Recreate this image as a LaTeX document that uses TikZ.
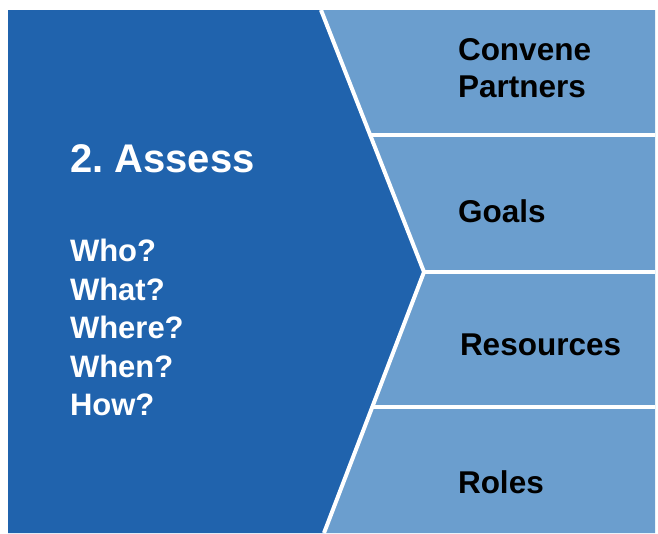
\documentclass[tikz,border=0pt]{standalone}
\usepackage{fontspec}
\setmainfont{Liberation Sans}
\usepackage{xcolor}
\usetikzlibrary{positioning,calc}
\definecolor{assessblue}{RGB}{32,99,173}
\definecolor{stepblue}{RGB}{107,158,206}

\begin{document}
\frenchspacing
\begin{tikzpicture}[x=1pt,y=-1pt,
    every node/.style={inner sep=0pt,outer sep=0pt},
    bigtitle/.style={font=\fontsize{40}{44}\selectfont\bfseries,text=white,anchor=base west},
    question/.style={font=\fontsize{31}{37}\selectfont\bfseries,text=white,anchor=base west},
    steplabel/.style={font=\fontsize{31.5}{37}\selectfont\bfseries,text=black,anchor=base west}
    ]
    \useasboundingbox (0,0) rectangle (658,533);

    % corner points of the arrow head
    \coordinate (tip top) at (321,10);
    \coordinate (tip) at (424,272);
    \coordinate (tip bottom) at (324,533);

    % left block and right column
    \fill[assessblue] (8,10) -- (tip top) -- (tip) -- (tip bottom) -- (8,533) -- cycle;
    \fill[stepblue] (tip top) -- (655,10) -- (655,533) -- (tip bottom) -- (tip) -- cycle;

    % white separators
    \coordinate (sep1) at (370,135);
    \coordinate (sep3) at (372,407);
    \draw[white,line width=4pt,line join=miter] (tip top) -- (tip) -- (tip bottom);
    \draw[white,line width=4pt] (sep1) -- (655,135);
    \draw[white,line width=4pt] (tip) -- (655,272);
    \draw[white,line width=4pt] (sep3) -- (655,407);

    % left texts
    \node[bigtitle] (assess) at (70,172) {2.\ Assess};
    \node[question] (who) at (70,261) {Who?};
    \node[question] (what) at (70,300) {What?};
    \node[question] (where) at (70,338) {Where?};
    \node[question] (when) at (70,377) {When?};
    \node[question] (how) at (70,415) {How?};

    % right texts
    \node[steplabel] (convene) at (458,60) {Convene};
    \node[steplabel] (partners) at (458,97) {Partners};
    \node[steplabel] (goals) at (458,222) {Goals};
    \node[steplabel] (resources) at (460,355) {Resources};
    \node[steplabel] (roles) at (458,493) {Roles};
\end{tikzpicture}
\end{document}
